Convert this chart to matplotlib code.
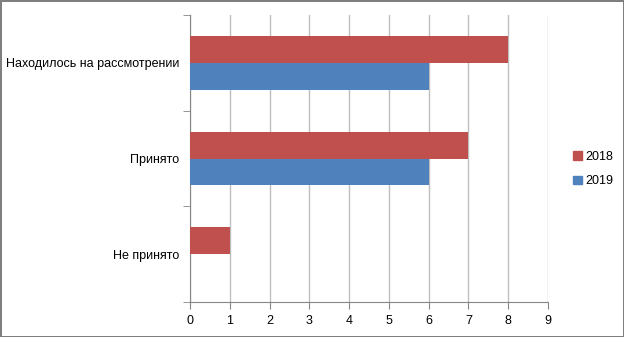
import numpy as np
from matplotlib import pyplot as plt
from matplotlib.patches import Patch

categories = ['Не принято', 'Принято', 'Находилось на рассмотрении']
vals_2018 = [1, 7, 8]
vals_2019 = [0, 6, 6]
series_names = ['2018', '2019']
xticks = list(range(0, 10))

RED = '#C0504D'
BLUE = '#4F81BD'
AXIS = '#868686'
GRID = '#BEBEBE'

plt.rcParams['font.family'] = ['Liberation Sans', 'DejaVu Sans']
plt.rcParams['font.size'] = 9

fig = plt.figure(figsize=(6.24, 3.37), dpi=100)
fig.patch.set_edgecolor('#7f7f7f')
fig.patch.set_linewidth(2)
ax = fig.add_axes([190/624, 1-302/337, 358/624, 287/337])

y = np.arange(len(categories))
h = 0.282
ax.barh(y + h/2, vals_2018, height=h, color=RED, zorder=3)
ax.barh(y - h/2, vals_2019, height=h, color=BLUE, zorder=3)

ax.set_xlim(0, 9)
ax.set_ylim(-0.5, 2.5)
ax.set_xticks(xticks)
ax.set_yticks(y)
ax.set_yticklabels(categories)
ax.set_yticks(np.arange(-0.5, 3, 1), minor=True)
ax.tick_params(axis='y', which='major', length=0, pad=8, colors='black')
ax.tick_params(axis='y', which='minor', length=5, color=AXIS)
ax.tick_params(axis='x', length=5, color=AXIS, pad=4)
ax.grid(axis='x', color=GRID, linewidth=1, zorder=0)
for s in ['top', 'right']:
    ax.spines[s].set_visible(False)
for s in ['left', 'bottom']:
    ax.spines[s].set_color(AXIS)

handles = [Patch(color=RED), Patch(color=BLUE)]
fig.legend(handles, series_names, loc='center left', bbox_to_anchor=(562/624, 1-169/337),
           frameon=False, handlelength=0.7, handleheight=0.7, handletextpad=0.25,
           labelspacing=1.0)

fig.savefig('out.png', dpi=100, edgecolor=fig.get_edgecolor())
